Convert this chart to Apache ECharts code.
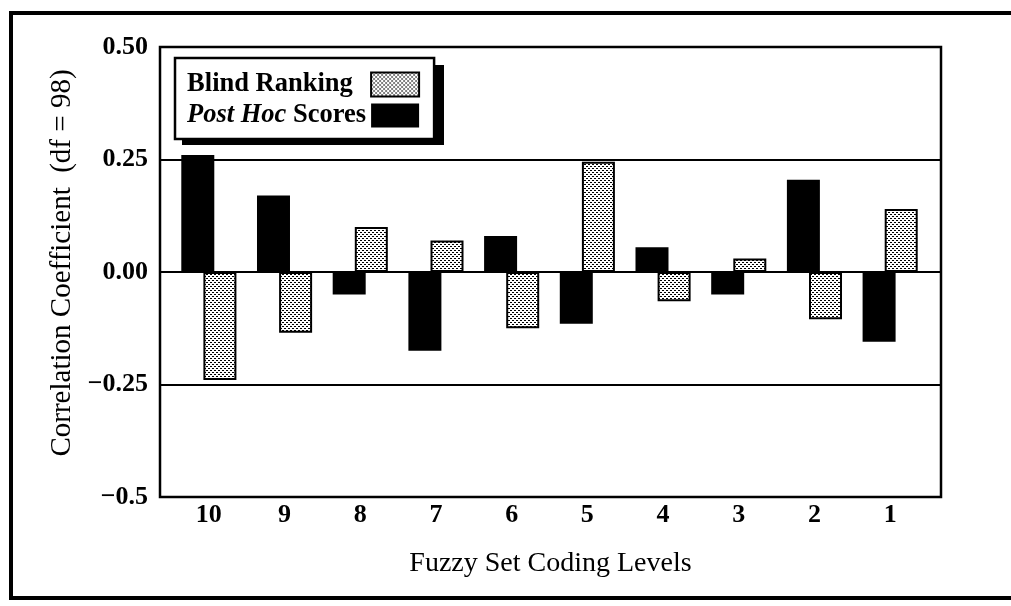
<!DOCTYPE html>
<html>
<head>
<meta charset="utf-8">
<script src="https://cdn.jsdelivr.net/npm/echarts@6/dist/echarts.min.js"></script>
<style>
  html, body { margin: 0; padding: 0; background: #fff; }
  #myChart { width: 1011px; height: 606px; }
</style>
</head>
<body>
<div id="myChart"></div>
<script>
// data
const categories = ['10', '9', '8', '7', '6', '5', '4', '3', '2', '1'];
const blindRanking = [-0.24, -0.135, 0.10, 0.07, -0.125, 0.245, -0.065, 0.03, -0.105, 0.14];
const postHocScores = [0.26, 0.17, -0.05, -0.175, 0.08, -0.115, 0.055, -0.05, 0.205, -0.155];
const yTickLabels = ['\u22120.5', '\u22120.25', '0.00', '0.25', '0.50'];

const serif = '"Liberation Serif", "DejaVu Serif", serif';

// dotted fill for the blind ranking bars
function dotPattern() {
  let c = document.createElement('canvas');
  c.width = 4;
  c.height = 4;
  let ctx = c.getContext('2d');
  ctx.fillStyle = '#fff';
  ctx.fillRect(0, 0, 4, 4);
  ctx.fillStyle = '#000';
  ctx.fillRect(0, 0, 2, 1);
  ctx.fillRect(2, 2, 2, 1);
  return c;
}
const dots = { image: dotPattern(), repeat: 'repeat' };

let myChart = echarts.init(document.getElementById('myChart'));
myChart.setOption({
  animation: false,
  backgroundColor: '#fff',
  graphic: [
    {
      // outer figure frame
      type: 'rect',
      shape: { x: 11, y: 13, width: 1100, height: 585 },
      style: { fill: 'none', stroke: '#000', lineWidth: 4 },
      z: 0
    },
    {
      // drop shadow behind the legend box
      type: 'rect',
      shape: { x: 182, y: 65, width: 262, height: 80 },
      style: { fill: '#000' },
      z: 1
    }
  ],
  legend: {
    data: ['Blind Ranking', 'Post Hoc Scores'],
    orient: 'vertical',
    left: 175,
    top: 58,
    align: 'right',
    icon: 'rect',
    padding: [13, 14, 10, 12],
    itemGap: 4,
    itemWidth: 48,
    itemHeight: 24,
    backgroundColor: '#fff',
    borderColor: '#000',
    borderWidth: 2.5,
    z: 5,
    formatter: function (name) {
      return name === 'Post Hoc Scores' ? '{i|Post Hoc}{b| Scores}' : '{n|' + name + '}';
    },
    textStyle: {
      fontFamily: serif,
      fontSize: 26.5,
      fontWeight: 'bold',
      color: '#000',
      rich: {
        n: { width: 179, align: 'left', fontFamily: serif, fontSize: 26.5, fontWeight: 'bold', color: '#000' },
        i: { fontFamily: serif, fontSize: 26.5, fontWeight: 'bold', fontStyle: 'italic', color: '#000' },
        b: { fontFamily: serif, fontSize: 26.5, fontWeight: 'bold', color: '#000' }
      }
    }
  },
  grid: [
    // frame + gridlines
    { left: 160, right: 70, top: 47, bottom: 109, show: true, borderColor: '#000', borderWidth: 2.5 },
    // bars
    { left: 171, right: 83, top: 47, bottom: 109 }
  ],
  xAxis: [
    {
      gridIndex: 0,
      type: 'category',
      data: categories,
      axisLine: { show: false },
      axisTick: { show: false },
      axisLabel: { show: false },
      name: 'Fuzzy Set Coding Levels',
      nameLocation: 'middle',
      nameGap: 53,
      nameTextStyle: { fontFamily: serif, fontSize: 28, color: '#000' }
    },
    {
      gridIndex: 1,
      type: 'category',
      data: categories,
      axisLine: { show: false, onZero: false },
      axisTick: { show: false },
      axisLabel: { margin: 5, fontFamily: serif, fontSize: 26, fontWeight: 'bold', color: '#000' }
    }
  ],
  yAxis: [
    {
      gridIndex: 0,
      type: 'value',
      min: -0.5,
      max: 0.5,
      interval: 0.25,
      axisLine: { show: false },
      axisTick: { show: false },
      splitLine: { lineStyle: { color: '#000', width: 1.8 } },
      axisLabel: {
        margin: 12,
        fontFamily: serif,
        fontSize: 26,
        fontWeight: 'bold',
        color: '#000',
        formatter: function (v) {
          return yTickLabels[Math.round((v + 0.5) / 0.25)];
        }
      },
      name: 'Correlation Coefficient  (df = 98)',
      nameLocation: 'middle',
      nameGap: 74,
      nameTextStyle: { fontFamily: serif, fontSize: 29, color: '#000', padding: [0, 0, 0, 18] }
    },
    {
      gridIndex: 1,
      type: 'value',
      min: -0.5,
      max: 0.5,
      interval: 0.25,
      axisLine: { show: false },
      axisTick: { show: false },
      splitLine: { show: false },
      axisLabel: { show: false }
    }
  ],
  series: [
    {
      name: 'Post Hoc Scores',
      type: 'bar',
      xAxisIndex: 1,
      yAxisIndex: 1,
      barWidth: 33,
      barGap: '-33%',
      itemStyle: { color: '#000' },
      data: postHocScores
    },
    {
      name: 'Blind Ranking',
      type: 'bar',
      xAxisIndex: 1,
      yAxisIndex: 1,
      barWidth: 33,
      barGap: '-33%',
      itemStyle: { color: dots, borderColor: '#000', borderWidth: 2 },
      data: blindRanking
    }
  ]
});
</script>
</body>
</html>
